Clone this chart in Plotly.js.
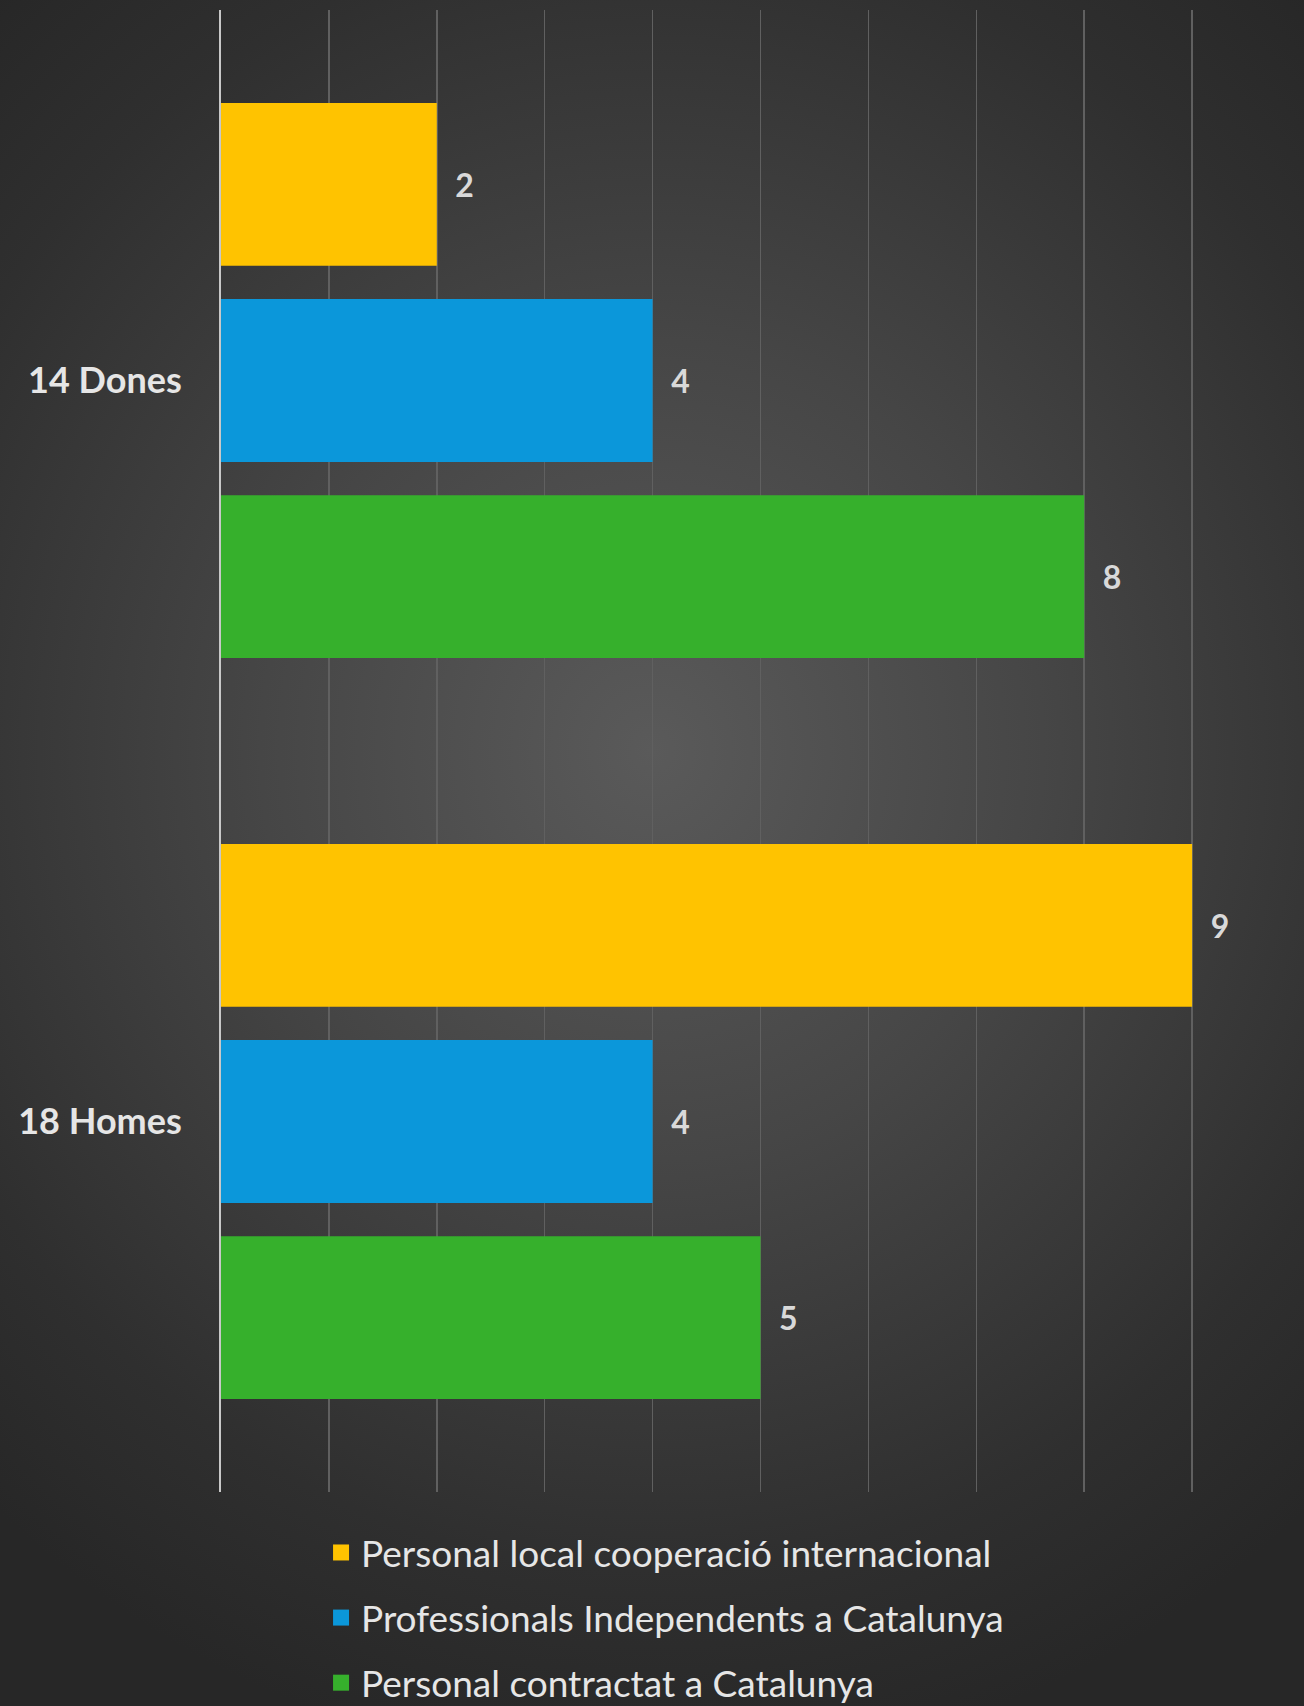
<!DOCTYPE html>
<html>
<head>
<meta charset="utf-8">
<script src="https://cdn.plot.ly/plotly-3.0.1.min.js"></script>
<style>
  html, body { margin: 0; padding: 0; }
  #chart {
    width: 1304px; height: 1706px;
    background: radial-gradient(ellipse 75% 60% at 50% 44%, #5a5a5a 0%, #464646 40%, #2f2f2f 80%, #272727 100%);
  }
</style>
</head>
<body>
<div id="chart"></div>
<script>
const categories = ['14 Dones', '18 Homes'];
const seriesNames = [
  'Personal local cooperació internacional',
  'Professionals Independents a Catalunya',
  'Personal contractat a Catalunya'
];
const localCooperacio = [2, 9];
const professionalsIndependents = [4, 4];
const personalContractat = [8, 5];

const seriesValues = [localCooperacio, professionalsIndependents, personalContractat];
const colors = ['#FFC300', '#0B97DA', '#36B02C'];

const traces = [];
seriesValues.forEach((vals, i) => {
  traces.push({
    type: 'bar',
    orientation: 'h',
    name: seriesNames[i],
    y: categories,
    x: vals,
    marker: { color: colors[i] },
    texttemplate: '\u00a0\u00a0%{x}',
    textposition: 'outside',
    cliponaxis: false,
    textfont: { family: 'Lato, sans-serif', size: 32, color: '#d9d9d9', weight: 'bold' },
    showlegend: false,
    hoverinfo: 'skip'
  });
});
seriesNames.forEach((n, i) => {
  traces.push({
    type: 'scatter',
    mode: 'markers',
    name: n,
    legendgroup: 'g' + i,
    x: [null], y: [null],
    marker: { symbol: 'square', size: 16, color: colors[i] },
    showlegend: true,
    hoverinfo: 'skip'
  });
});

const layout = {
  width: 1304,
  height: 1706,
  paper_bgcolor: 'rgba(0,0,0,0)',
  plot_bgcolor: 'rgba(0,0,0,0)',
  margin: { l: 221, r: 4, t: 10, b: 214, autoexpand: false },
  barmode: 'group',
  bargap: 0.206,
  bargroupgap: 0.17,
  showlegend: true,
  xaxis: {
    range: [0, 10],
    dtick: 1,
    showgrid: true,
    gridcolor: '#606060',
    gridwidth: 1.5,
    zeroline: false,
    showline: false,
    showticklabels: false,
    fixedrange: true
  },
  yaxis: {
    type: 'category',
    autorange: 'reversed',
    showgrid: false,
    zeroline: false,
    showline: true,
    linecolor: '#c8c8c8',
    linewidth: 2,
    ticks: '',
    ticklabelstandoff: 30,
    tickfont: { family: 'Lato, sans-serif', size: 36, color: '#e6e6e6', weight: 'bold' },
    fixedrange: true
  },
  legend: {
    orientation: 'v',
    xref: 'container',
    yref: 'container',
    x: 0.2462,
    xanchor: 'left',
    y: 0.1079,
    yanchor: 'top',
    traceorder: 'grouped',
    tracegroupgap: 14,
    bgcolor: 'rgba(0,0,0,0)',
    font: { family: 'Lato, sans-serif', size: 37, color: '#e6e6e6' }
  }
};

Plotly.newPlot('chart', traces, layout, { displayModeBar: false, staticPlot: true });
</script>
</body>
</html>
